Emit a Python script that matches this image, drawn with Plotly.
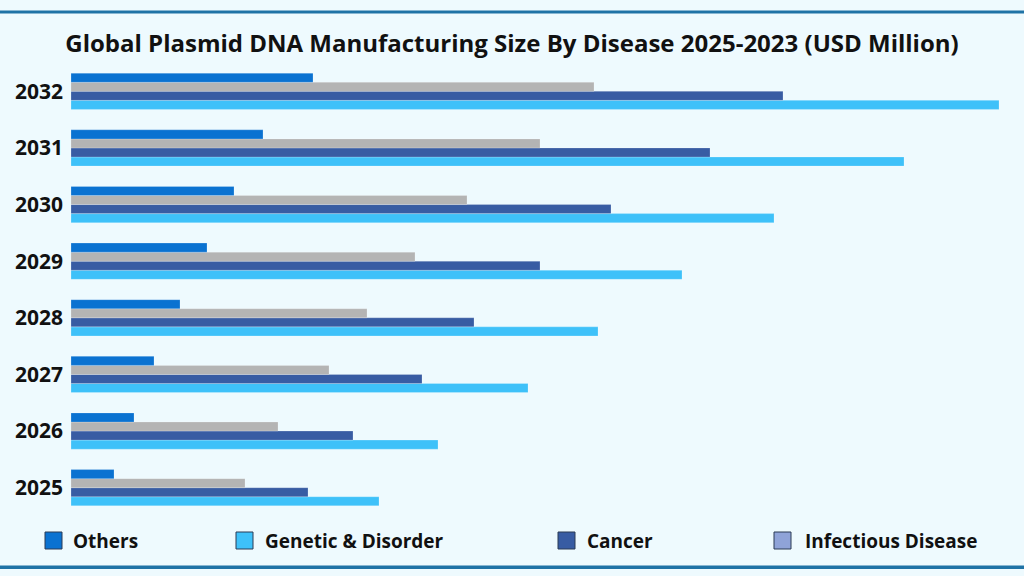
import plotly.graph_objects as go

# Market size by disease (USD Million, approx.)
years = ["2025", "2026", "2027", "2028", "2029", "2030", "2031", "2032"]
others = [43, 63, 83, 109, 136, 163, 192, 242]
infectious = [174, 207, 258, 296, 344, 396, 469, 523]
cancer = [237, 282, 351, 403, 469, 540, 639, 712]
genetic = [308, 367, 457, 527, 611, 703, 833, 928]

legend_names = ["Others", "Genetic & Disorder", "Cancer", "Infectious Disease"]

W, H = 1024, 576
ML, MR, MT, MB = 71, 13, 63, 60
BG = "#eefafe"
FONT = "Open Sans"

fig = go.Figure()

# plotly stacks the first trace at the bottom of each group
series = [
    ("Genetic & Disorder", genetic, "#3ec1f9"),
    ("Cancer", cancer, "#385ca3"),
    ("Infectious Disease", infectious, "#b4b4b4"),
    ("Others", others, "#0a72d1"),
]
for name, vals, col in series:
    fig.add_trace(go.Bar(
        y=years, x=vals, name=name, orientation="h",
        marker=dict(color=col, line=dict(color="rgba(255,255,255,0.35)", width=0.6)),
        showlegend=False,
    ))

# pixel -> paper helpers for the hand placed legend
pw = W - ML - MR
ph = H - MT - MB
def px(x):
    return (x - ML) / pw
def py(y):
    return (H - MB - y) / ph

swatches = {
    "Others": ("#0a72d1", 45, 71),
    "Genetic & Disorder": ("#3ec1f9", 236, 263),
    "Cancer": ("#385ca3", 558, 585),
    "Infectious Disease": ("#8fa3d8", 774, 803),
}
for name in legend_names:
    col, sx, tx = swatches[name]
    fig.add_shape(type="rect", xref="paper", yref="paper",
                  x0=px(sx), x1=px(sx + 17), y0=py(549), y1=py(532),
                  fillcolor=col, line=dict(color="#2b3a55", width=1))
    fig.add_annotation(xref="paper", yref="paper", x=px(tx), y=py(540.5),
                       text="<b>" + name + "</b>", showarrow=False,
                       xanchor="left", yanchor="middle",
                       font=dict(family=FONT, size=19, color="#111111"))

# top and bottom rules
for y0, y1 in [(10.5, 13.5), (565.5, 569)]:
    fig.add_shape(type="rect", xref="paper", yref="paper",
                  x0=px(0), x1=px(W), y0=py(y1), y1=py(y0),
                  fillcolor="#1f73a6", line=dict(width=0))

fig.update_layout(
    width=W, height=H,
    margin=dict(l=ML, r=MR, t=MT, b=MB),
    paper_bgcolor=BG, plot_bgcolor=BG,
    barmode="group", bargap=0.36, bargroupgap=0,
    title=dict(text="<b>Global Plasmid DNA Manufacturing Size By Disease 2025-2023 (USD Million)</b>",
               x=0.5, xanchor="center", y=1 - 44 / H, yanchor="middle",
               font=dict(family=FONT, size=24, color="#111111")),
    xaxis=dict(range=[0, 940], showgrid=False, zeroline=False,
               showticklabels=False, showline=False),
    yaxis=dict(showgrid=False, zeroline=False, showline=False,
               tickfont=dict(family=FONT, size=21, color="#111111"),
               ticklabelstandoff=7, ticks=""),
    font=dict(family=FONT),
)
fig.update_yaxes(tickvals=years, ticktext=["<b>" + y + "</b>" for y in years])

fig.write_html("out.html", config={"displayModeBar": False},
               post_script="document.body.style.margin='0';")
